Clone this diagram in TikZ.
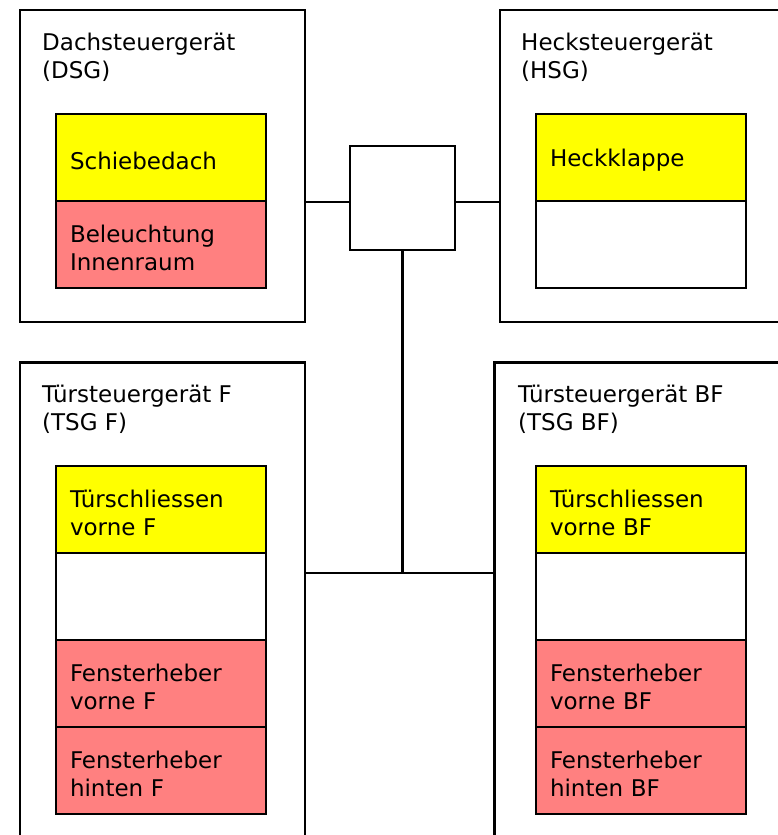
\documentclass[tikz,border=0pt]{standalone}
\usepackage{fontspec}
\setmainfont{DejaVu Sans}
\usetikzlibrary{positioning}
\definecolor{gelb}{RGB}{255,255,0}
\definecolor{rot}{RGB}{255,128,128}
\tikzset{
  geraet/.style={draw,line width=2.3pt,outer sep=0pt,inner sep=0pt,anchor=north west},
  titel/.style={anchor=north west,inner sep=0pt,align=left},
  zelle/.style={draw,line width=2.9pt,outer sep=0pt,minimum width=210pt,minimum height=87pt,
    text width=182pt,inner xsep=14pt,inner ysep=0pt,align=left,
    execute at begin node=\rule{0pt}{1.02em}},
  leitung/.style={line width=2.3pt},
}
\begin{document}
\begin{tikzpicture}[x=1pt,y=-1pt,font=\fontsize{23pt}{28pt}\selectfont]
  \useasboundingbox (0,0) rectangle (778,835);
  \clip (0,0) rectangle (778,835);
  \node[geraet,minimum width=285pt,minimum height=312pt] (dsg) at (20,10) {};
  \node[geraet,minimum width=290pt,minimum height=312pt] (hsg) at (500,10) {};
  \node[geraet,minimum width=285pt,minimum height=490pt] (tsgf) at (20,362.5) {};
  \node[geraet,minimum width=296pt,minimum height=490pt] (tsgbf) at (494.5,362.5) {};
  \node[draw,line width=2.7pt,minimum width=105pt,minimum height=104pt] (hub) at (402.5,198) {};

  \node[titel] (tdsg) at (42,32.5) {Dachsteuergerät\\(DSG)};
  \node[titel] (thsg) at (521,32.5) {Hecksteuergerät\\(HSG)};
  \node[titel] (ttsgf) at (42,385) {Türsteuergerät F\\(TSG F)};
  \node[titel] (ttsgbf) at (518,385) {Türsteuergerät BF\\(TSG BF)};

  \node[zelle,fill=gelb,anchor=north west] (dach) at (56,114) {Schiebedach};
  \node[zelle,fill=rot,below=0pt of dach] (licht) {Beleuchtung\\Innenraum};

  \node[zelle,fill=gelb,anchor=north west] (heck) at (536,114) {Heckklappe};
  \node[zelle,fill=white,below=0pt of heck] (heckleer) {};

  \node[zelle,fill=gelb,anchor=north west] (tsf) at (56,466) {Türschliessen\\vorne F};
  \node[zelle,fill=white,below=0pt of tsf] (leerf) {};
  \node[zelle,fill=rot,below=0pt of leerf] (fvf) {Fensterheber\\vorne F};
  \node[zelle,fill=rot,below=0pt of fvf] (fhf) {Fensterheber\\hinten F};

  \node[zelle,fill=gelb,anchor=north west] (tsbf) at (536,466) {Türschliessen\\vorne BF};
  \node[zelle,fill=white,below=0pt of tsbf] (leerbf) {};
  \node[zelle,fill=rot,below=0pt of leerbf] (fvbf) {Fensterheber\\vorne BF};
  \node[zelle,fill=rot,below=0pt of fvbf] (fhbf) {Fensterheber\\hinten BF};

  \coordinate (busl) at ([yshift=-4pt]hub.west);
  \coordinate (busr) at ([yshift=-4pt]hub.east);
  \coordinate (bus) at (hub.south |- 0,573);
  \begin{scope}[leitung]
    \draw (busl) -- (busl -| dsg.east);
    \draw (busr) -- (busr -| hsg.west);
    \draw (hub.south) -- (bus);
    \draw (bus -| tsgf.east) -- (bus -| tsgbf.west);
  \end{scope}
\end{tikzpicture}
\end{document}
